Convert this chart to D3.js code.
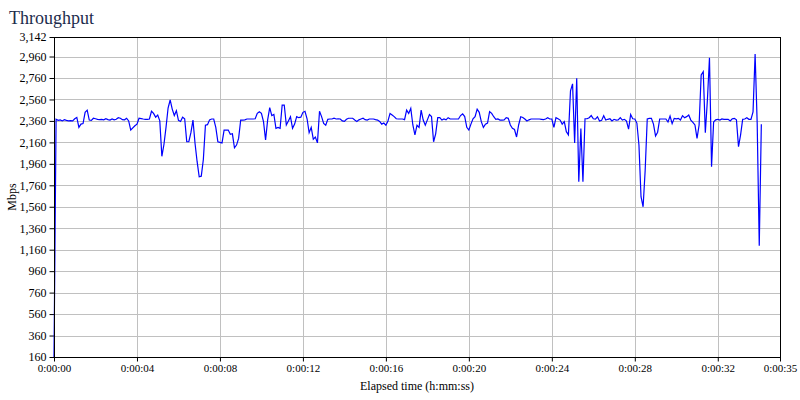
<!DOCTYPE html>
<html>
<head>
<meta charset="utf-8">
<script src="https://cdn.jsdelivr.net/npm/d3@7"></script>
<style>
  html, body { margin: 0; padding: 0; background: #ffffff; }
  svg { display: block; }
</style>
</head>
<body>
<svg id="chart" width="800" height="400"></svg>
<script>
// ---------------- data ----------------
const chartTitle = "Throughput";
const yAxisTitle = "Mbps";
const xAxisTitle = "Elapsed time (h:mm:ss)";
const sampleIntervalSec = 0.1;
const yTickValues = [160, 360, 560, 760, 960, 1160, 1360, 1560, 1760, 1960, 2160, 2360, 2560, 2760, 2960, 3142];
const xTickSeconds = [0, 4, 8, 12, 16, 20, 24, 28, 32, 35];
const yDomain = [160, 3142];
const xDomain = [0, 35];
// Throughput samples (Mbps), one every 0.1 s
const throughputMbps = [
  160, 2375, 2365, 2370, 2360, 2372, 2365, 2360, 2362, 2360,
  2380, 2392, 2300, 2330, 2335, 2440, 2460, 2368, 2365, 2385,
  2380, 2375, 2372, 2375, 2370, 2380, 2372, 2368, 2378, 2370,
  2375, 2390, 2385, 2372, 2370, 2385, 2360, 2275, 2295, 2315,
  2330, 2385, 2382, 2378, 2375, 2375, 2378, 2450, 2430, 2395,
  2415, 2360, 2030, 2140, 2300, 2480, 2555, 2470, 2410, 2455,
  2365, 2355, 2395, 2380, 2166, 2166, 2250, 2368, 2150, 1980,
  1840, 1845, 2000, 2320, 2325, 2370, 2378, 2378, 2300, 2166,
  2160, 2155, 2275, 2275, 2275, 2235, 2240, 2110, 2135, 2197,
  2368, 2368, 2370, 2378, 2378, 2378, 2378, 2380, 2430, 2446,
  2430, 2353, 2182, 2370, 2483, 2410, 2420, 2291, 2300, 2291,
  2508, 2508, 2322, 2360, 2400, 2291, 2330, 2400, 2390, 2395,
  2440, 2450, 2380, 2250, 2300, 2190, 2210, 2155, 2450, 2400,
  2337, 2320, 2375, 2378, 2378, 2385, 2378, 2380, 2378, 2360,
  2355, 2375, 2385, 2385, 2385, 2368, 2355, 2370, 2378, 2385,
  2372, 2368, 2378, 2378, 2378, 2372, 2368, 2355, 2330, 2340,
  2320, 2360, 2430, 2415, 2400, 2380, 2378, 2378, 2378, 2372,
  2461, 2430, 2477, 2322, 2229, 2320, 2300, 2460, 2368, 2320,
  2370, 2420, 2400, 2166, 2240, 2390, 2390, 2368, 2378, 2370,
  2390, 2378, 2378, 2378, 2378, 2378, 2410, 2425, 2400, 2300,
  2275, 2330, 2380, 2399, 2470, 2440, 2353, 2300, 2330, 2340,
  2446, 2430, 2399, 2375, 2378, 2368, 2368, 2370, 2390, 2384,
  2322, 2291, 2280, 2210, 2322, 2399, 2392, 2378, 2359, 2370,
  2378, 2378, 2378, 2378, 2378, 2375, 2372, 2378, 2390, 2378,
  2378, 2300, 2390, 2380, 2368, 2330, 2353, 2260, 2230, 2640,
  2705, 2154, 2757, 1794, 2290, 1794, 2380, 2380, 2390, 2410,
  2380, 2377, 2399, 2359, 2365, 2409, 2368, 2375, 2380, 2359,
  2375, 2368, 2370, 2390, 2368, 2375, 2359, 2284, 2420, 2380,
  2378, 2340, 2135, 1654, 1560, 1900, 2378, 2384, 2384, 2330,
  2220, 2255, 2378, 2378, 2378, 2378, 2350, 2405, 2335, 2384,
  2380, 2384, 2368, 2409, 2390, 2400, 2415, 2368, 2347, 2322,
  2197, 2322, 2788, 2819, 2250, 2555, 2949, 1934, 2350, 2370,
  2375, 2368, 2378, 2375, 2375, 2375, 2359, 2380, 2384, 2370,
  2120, 2230, 2375, 2378, 2390, 2375, 2375, 2445, 2984, 2340,
  1197, 2330
];

// ---------------- layout ----------------
const plot = { left: 54, right: 780, top: 37, bottom: 357 };
const serif = "'Liberation Serif', 'Times New Roman', serif";

const svg = d3.select("#chart");

const x = d3.scaleLinear().domain(xDomain).range([plot.left, plot.right]);
const y = d3.scaleLinear().domain(yDomain).range([plot.bottom, plot.top]);

const fmtTime = s => {
  const h = Math.floor(s / 3600);
  const m = Math.floor((s % 3600) / 60);
  const sec = Math.floor(s % 60);
  return `${h}:${String(m).padStart(2, "0")}:${String(sec).padStart(2, "0")}`;
};
const fmtNum = d3.format(",");

// gridlines
svg.append("g")
  .selectAll("line.hgrid")
  .data(yTickValues)
  .join("line")
  .attr("x1", plot.left).attr("x2", plot.right)
  .attr("y1", d => Math.round(y(d)) + 0.5).attr("y2", d => Math.round(y(d)) + 0.5)
  .attr("stroke", "#c0c0c0").attr("stroke-width", 1);

svg.append("g")
  .selectAll("line.vgrid")
  .data(xTickSeconds)
  .join("line")
  .attr("x1", d => Math.round(x(d)) + 0.5).attr("x2", d => Math.round(x(d)) + 0.5)
  .attr("y1", plot.top).attr("y2", plot.bottom)
  .attr("stroke", "#c0c0c0").attr("stroke-width", 1);

// axes
const yAxis = d3.axisLeft(y).tickValues(yTickValues).tickFormat(fmtNum).tickSize(5).tickPadding(3);
const xAxis = d3.axisBottom(x).tickValues(xTickSeconds).tickFormat(fmtTime).tickSize(4).tickPadding(3);

const gy = svg.append("g").attr("transform", `translate(${plot.left + 0.5},0)`).call(yAxis);
const gx = svg.append("g").attr("transform", `translate(0,${plot.bottom + 0.5})`).call(xAxis);

[gy, gx].forEach(g => {
  g.select(".domain").remove();
  g.selectAll(".tick line").attr("stroke", "#000");
  g.selectAll(".tick text")
    .attr("fill", "#000")
    .style("font-family", serif)
    .style("font-size", "12px");
});
gx.selectAll(".tick text").style("font-size", "11px");

// data line
const line = d3.line()
  .x((d, i) => x(i * sampleIntervalSec))
  .y(d => y(d))
  .curve(d3.curveLinear);

svg.append("path")
  .datum(throughputMbps)
  .attr("d", line)
  .attr("fill", "none")
  .attr("stroke", "#0000ff")
  .attr("stroke-width", 1.2)
  .attr("stroke-linejoin", "miter");

// frame
svg.append("rect")
  .attr("x", plot.left + 0.5).attr("y", plot.top + 0.5)
  .attr("width", plot.right - plot.left).attr("height", plot.bottom - plot.top)
  .attr("fill", "none").attr("stroke", "#000").attr("stroke-width", 1);

// titles
svg.append("text")
  .attr("x", 9).attr("y", 24)
  .style("font-family", serif).style("font-size", "18px")
  .attr("fill", "#1c2c4c")
  .text(chartTitle);

svg.append("text")
  .attr("transform", `translate(16,${(plot.top + plot.bottom) / 2}) rotate(-90)`)
  .attr("text-anchor", "middle")
  .style("font-family", serif).style("font-size", "12px")
  .attr("fill", "#000")
  .text(yAxisTitle);

svg.append("text")
  .attr("x", (plot.left + plot.right) / 2).attr("y", 390)
  .attr("text-anchor", "middle")
  .style("font-family", serif).style("font-size", "12px")
  .attr("fill", "#000")
  .text(xAxisTitle);
</script>
</body>
</html>
